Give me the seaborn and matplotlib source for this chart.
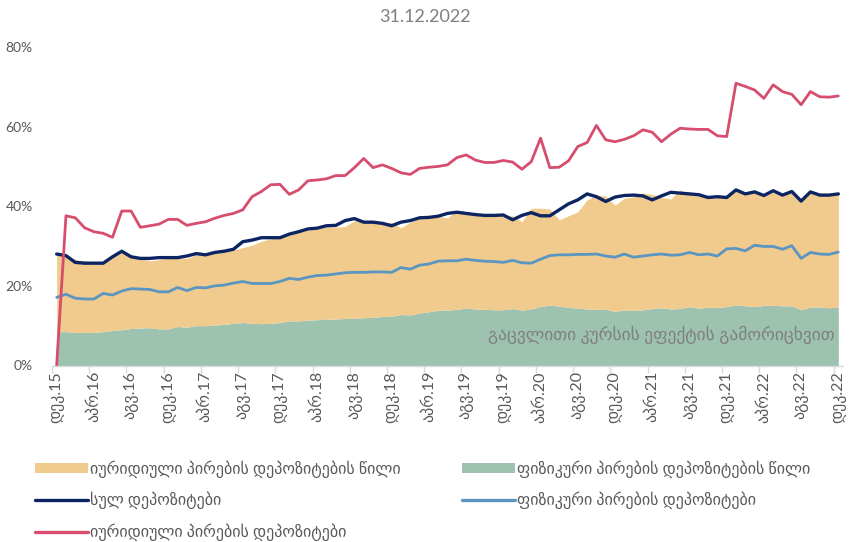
import numpy as np
import pandas as pd
import matplotlib
matplotlib.use("Agg")
import matplotlib.pyplot as plt
import seaborn as sns
from matplotlib.patches import Patch
from matplotlib.lines import Line2D

# Tick labels (every 4th month, Dec 2015 - Dec 2022)
tick_labels = [
    "დეკ.15", "აპრ.16", "აგვ.16", "დეკ.16", "აპრ.17", "აგვ.17", "დეკ.17",
    "აპრ.18", "აგვ.18", "დეკ.18", "აპრ.19", "აგვ.19", "დეკ.19", "აპრ.20",
    "აგვ.20", "დეკ.20", "აპრ.21", "აგვ.21", "დეკ.21", "აპრ.22", "აგვ.22",
    "დეკ.22",
]

# Share of individuals' deposits (green area), %
phys_share = [
    8.5, 8.5, 8.3, 8.3, 8.3, 8.5, 8.8, 9.0, 9.3, 9.4, 9.5, 9.2, 9.2, 9.8, 9.6,
    10.0, 10.0, 10.2, 10.3, 10.6, 10.8, 10.6, 10.5, 10.6, 10.8, 11.2, 11.2,
    11.4, 11.5, 11.6, 11.7, 11.8, 11.9, 12.0, 12.1, 12.3, 12.4, 12.8, 12.7,
    13.2, 13.5, 13.9, 13.9, 14.1, 14.4, 14.2, 14.1, 14.0, 14.0, 14.3, 13.9,
    14.2, 14.8, 15.2, 14.9, 14.6, 14.4, 14.2, 14.1, 14.1, 13.6, 14.0, 13.8,
    14.0, 14.3, 14.5, 14.2, 14.3, 14.8, 14.4, 14.6, 14.6, 14.8, 15.2, 15.0,
    14.8, 15.1, 15.1, 15.0, 15.0, 14.0, 14.7, 14.7, 14.5, 14.7,
]

# Share of legal entities' deposits (orange area, stacked on green), %
legal_share = [
    19.3, 18.9, 18.3, 18.0, 17.7, 17.5, 18.6, 19.4, 18.5, 17.4, 16.8, 17.4,
    17.7, 17.2, 17.3, 17.8, 17.7, 18.0, 18.2, 18.4, 18.8, 19.6, 20.7, 21.2,
    21.3, 21.6, 22.2, 22.6, 22.8, 23.2, 23.1, 23.1, 24.5, 24.3, 24.1, 23.7,
    23.5, 21.8, 23.3, 23.8, 23.7, 23.5, 23.2, 24.8, 24.2, 23.6, 23.5, 23.6,
    23.6, 23.3, 22.2, 25.3, 24.7, 24.1, 21.7, 23.0, 24.2, 27.4, 28.7, 28.5,
    26.7, 28.0, 28.6, 29.3, 28.7, 27.8, 27.6, 29.8, 28.2, 28.2, 27.7, 27.8,
    27.5, 28.6, 28.0, 28.6, 27.5, 28.5, 27.7, 28.4, 27.5, 28.6, 28.0, 28.2,
    28.3,
]

# Total deposits, %
total_dep = [
    28.0, 27.6, 25.9, 25.7, 25.7, 25.7, 27.3, 28.7, 27.3, 26.9, 26.9, 27.1,
    27.1, 27.1, 27.5, 28.1, 27.8, 28.4, 28.7, 29.2, 31.1, 31.5, 32.1, 32.1,
    32.1, 33.0, 33.6, 34.3, 34.5, 35.1, 35.2, 36.4, 36.9, 36.0, 36.0, 35.7,
    35.1, 36.0, 36.4, 37.1, 37.2, 37.5, 38.2, 38.5, 38.2, 37.9, 37.7, 37.7,
    37.8, 36.6, 37.7, 38.4, 37.6, 37.6, 39.1, 40.6, 41.6, 43.1, 42.4, 41.2,
    42.3, 42.7, 42.8, 42.6, 41.6, 42.6, 43.5, 43.3, 43.1, 42.9, 42.2, 42.4,
    42.2, 44.1, 43.1, 43.6, 42.7, 43.9, 42.8, 43.7, 41.3, 43.6, 42.8, 42.8,
    43.1,
]

# Individuals' deposits, %
phys_dep = [
    17.1, 17.9, 16.9, 16.7, 16.7, 18.1, 17.7, 18.7, 19.3, 19.2, 19.1, 18.5,
    18.5, 19.6, 18.8, 19.6, 19.5, 20.0, 20.2, 20.7, 21.1, 20.6, 20.6, 20.6,
    21.1, 21.9, 21.6, 22.2, 22.6, 22.7, 23.0, 23.3, 23.4, 23.4, 23.5, 23.5,
    23.4, 24.6, 24.2, 25.2, 25.5, 26.2, 26.3, 26.3, 26.7, 26.4, 26.2, 26.1,
    25.9, 26.4, 25.8, 25.7, 26.7, 27.6, 27.8, 27.8, 27.9, 27.9, 28.0, 27.5,
    27.2, 28.0, 27.2, 27.5, 27.8, 28.0, 27.7, 27.8, 28.4, 27.8, 28.0, 27.5,
    29.3, 29.4, 28.8, 30.2, 29.9, 29.9, 29.2, 30.1, 26.9, 28.4, 28.0, 27.9,
    28.5,
]

# Legal entities' deposits, %
legal_dep = [
    0.0, 37.6, 37.1, 34.6, 33.6, 33.2, 32.2, 38.8, 38.8, 34.7, 35.1, 35.5,
    36.7, 36.7, 35.2, 35.7, 36.1, 37.0, 37.7, 38.2, 39.1, 42.4, 43.7, 45.4,
    45.5, 43.0, 44.1, 46.4, 46.6, 46.9, 47.7, 47.7, 49.7, 52.0, 49.7, 50.4,
    49.5, 48.4, 48.0, 49.5, 49.8, 50.0, 50.4, 52.2, 52.9, 51.6, 51.0, 51.0,
    51.5, 51.1, 49.3, 51.2, 57.1, 49.7, 49.8, 51.4, 55.0, 56.0, 60.3, 56.7,
    56.2, 56.8, 57.7, 59.2, 58.6, 56.2, 58.1, 59.6, 59.4, 59.3, 59.3, 57.7,
    57.5, 70.9, 70.1, 69.2, 67.1, 70.5, 68.8, 68.1, 65.5, 68.8, 67.5, 67.4,
    67.7,
]

lbl_legal_share = "იურიდიული პირების დეპოზიტების წილი"
lbl_phys_share = "ფიზიკური პირების დეპოზიტების წილი"
lbl_total = "სულ დეპოზიტები"
lbl_phys = "ფიზიკური პირების დეპოზიტები"
lbl_legal = "იურიდიული პირების დეპოზიტები"

c_orange = "#F1CB8D"
c_green = "#9DC2AF"
c_navy = "#0C2562"
c_blue = "#5B95C1"
c_red = "#D64D6D"
c_text = "#595959"

x = np.arange(len(total_dep))
df = pd.DataFrame({
    "x": x,
    "total": total_dep,
    "phys": phys_dep,
    "legal": legal_dep,
})

sns.set_theme(style="white")
plt.rcParams["font.family"] = ["Lato", "DejaVu Sans"]

fig, ax = plt.subplots(figsize=(8.51, 5.42), dpi=100)
fig.subplots_adjust(left=52 / 851, right=843 / 851,
                    top=1 - 47 / 542, bottom=1 - 365.5 / 542)

ax.stackplot(x, phys_share, legal_share, colors=[c_green, c_orange],
             linewidth=0)
sns.lineplot(data=df, x="x", y="total", color=c_navy, lw=2.4, ax=ax)
sns.lineplot(data=df, x="x", y="phys", color=c_blue, lw=2.0, ax=ax)
sns.lineplot(data=df, x="x", y="legal", color=c_red, lw=2.0, ax=ax)

ax.set_xlim(-0.5, len(x) - 0.5)
ax.set_ylim(0, 80)
ax.set_xlabel("")
ax.set_ylabel("")

# tick marks between categories, labels on categories
ax.set_xticks(np.arange(-0.5, len(x) - 1, 4))
ax.set_xticklabels([])
ax.set_xticks(np.arange(0, len(x), 4), minor=True)
ax.set_xticklabels(tick_labels, minor=True, rotation=90, fontsize=11.5,
                   color=c_text)
ax.tick_params(axis="x", which="major", bottom=True, length=5, width=1,
               color="#D9D9D9")
ax.tick_params(axis="x", which="minor", bottom=False, length=0, pad=4)

ax.set_yticks([0, 20, 40, 60, 80])
ax.set_yticklabels(["0%", "20%", "40%", "60%", "80%"], fontsize=10,
                   color=c_text)
ax.tick_params(axis="y", length=0, pad=14)

sns.despine(ax=ax, left=True)
ax.spines["bottom"].set_color("#D9D9D9")
ax.spines["bottom"].set_linewidth(1)

fig.text(0.5, 1 - 17 / 542, "31.12.2022", ha="center", va="center",
         fontsize=13, color="#7F7F7F")

ax.text(0.989, 0.096, "გაცვლითი კურსის ეფექტის გამორიცხვით",
        transform=ax.transAxes, ha="right", va="center", fontsize=12.5,
        color="#7F7F7F")

# Legend: two columns
h_orange = Patch(facecolor=c_orange, edgecolor="none", label=lbl_legal_share)
h_green = Patch(facecolor=c_green, edgecolor="none", label=lbl_phys_share)
h_navy = Line2D([], [], color=c_navy, lw=2.4, label=lbl_total)
h_blue = Line2D([], [], color=c_blue, lw=2.4, label=lbl_phys)
h_red = Line2D([], [], color=c_red, lw=2.4, label=lbl_legal)

leg_kw = dict(loc="upper left", frameon=False, fontsize=11.5,
              handlelength=3.3, handleheight=0.65, handletextpad=0.15,
              labelspacing=0.88, borderpad=0, borderaxespad=0,
              labelcolor=c_text)
leg1 = fig.legend(handles=[h_orange, h_navy, h_red],
                  bbox_to_anchor=(35 / 851, 1 - 460 / 542), **leg_kw)
leg2 = fig.legend(handles=[h_green, h_blue],
                  bbox_to_anchor=(462 / 851, 1 - 460 / 542), **leg_kw)

plt.savefig("out.png", dpi=100)
